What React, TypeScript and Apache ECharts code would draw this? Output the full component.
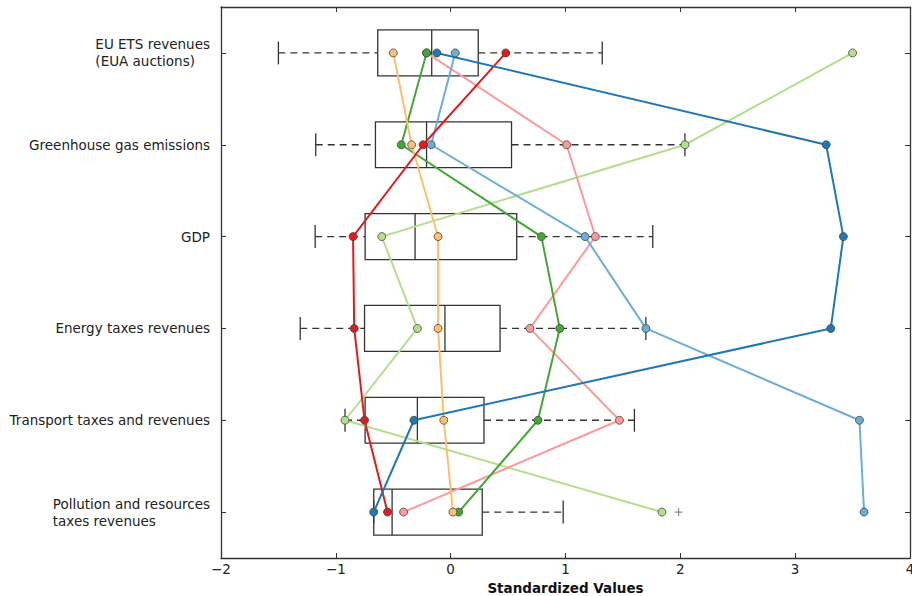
import React, { useEffect, useRef } from "react";
import * as echarts from "echarts";

const categories = [
  "EU ETS revenues\n(EUA auctions)",
  "Greenhouse gas emissions",
  "GDP",
  "Energy taxes revenues",
  "Transport taxes and revenues",
  "Pollution and resources\ntaxes revenues",
];

// box stats: [low whisker, Q1, median, Q3, high whisker]
const boxStats = [
  [-1.5, -0.635, -0.165, 0.24, 1.32],
  [-1.175, -0.655, -0.21, 0.53, 2.04],
  [-1.18, -0.745, -0.31, 0.575, 1.76],
  [-1.31, -0.75, -0.05, 0.43, 1.7],
  [-0.92, -0.745, -0.29, 0.29, 1.6],
  [-0.67, -0.67, -0.51, 0.275, 0.98],
];

const outliers = [[1.985, 5]];

const darkBlue = [-0.12, 3.27, 3.42, 3.31, -0.32, -0.67];
const lightBlue = [0.04, -0.17, 1.17, 1.7, 3.56, 3.6];
const red = [0.48, -0.24, -0.85, -0.84, -0.75, -0.55];
const pink = [-0.21, 1.01, 1.26, 0.69, 1.47, -0.41];
const green = [-0.21, -0.43, 0.79, 0.95, 0.76, 0.07];
const lightGreen = [3.5, 2.04, -0.6, -0.29, -0.92, 1.84];
const orange = [-0.5, -0.34, -0.11, -0.11, -0.06, 0.02];

const seriesDefs = [
  { name: "A", values: lightGreen, color: "#b2df8a" },
  { name: "B", values: pink, color: "#fb9a99" },
  { name: "C", values: lightBlue, color: "#6baed6" },
  { name: "D", values: green, color: "#41a833" },
  { name: "E", values: orange, color: "#fdbf6f" },
  { name: "F", values: red, color: "#e31a1c" },
  { name: "G", values: darkBlue, color: "#1f78b4" },
];

const FONT = "DejaVu Sans";
const FS = 13.5;

export default function App() {
  const ref = useRef<HTMLDivElement>(null);
  useEffect(() => {
    const chart = echarts.init(ref.current!, undefined, { renderer: "svg" });
    const boxData = boxStats.map((b, i) => [...b, i]);
    const axisLine = { show: true, onZero: false, lineStyle: { color: "#333", width: 1.3 } };
    const option: any = {
      animation: false,
      backgroundColor: "#fff",
      grid: {
        left: 221,
        right: 2,
        top: 7,
        bottom: 38,
        containLabel: false,
        outerBoundsMode: "none",
        show: false,
      },
      xAxis: [
        {
          type: "value",
          min: -2,
          max: 4,
          interval: 1,
          position: "bottom",
          axisLine,
          axisTick: { show: true, inside: true, length: 5, lineStyle: { color: "#333" } },
          splitLine: { show: false },
          axisLabel: {
            margin: 4,
            fontFamily: FONT,
            fontSize: FS,
            color: "#222",
            formatter: (v: number) => (v < 0 ? "\u2212" + Math.abs(v) : String(v)),
          },
          name: "Standardized Values",
          nameLocation: "middle",
          nameGap: 22,
          nameTextStyle: { fontFamily: FONT, fontSize: FS, fontWeight: "bold", color: "#111" },
        },
        {
          type: "value",
          min: -2,
          max: 4,
          interval: 1,
          position: "top",
          axisLine,
          axisTick: { show: true, inside: true, length: 5, lineStyle: { color: "#333" } },
          splitLine: { show: false },
          axisLabel: { show: false },
        },
      ],
      yAxis: [
        {
          type: "category",
          data: categories,
          inverse: true,
          position: "left",
          axisLine,
          axisTick: { show: true, inside: true, length: 5, alignWithLabel: true, lineStyle: { color: "#333" } },
          splitLine: { show: false },
          axisLabel: {
            margin: 11,
            align: "right",
            formatter: (v: string) =>
              v
                .split("\n")
                .map((l) => `{a|${l}}`)
                .join("\n"),
            rich: {
              a: {
                align: "left",
                fontFamily: FONT,
                fontSize: FS,
                color: "#222",
                lineHeight: 17,
              },
            },
          },
        },
        {
          type: "category",
          data: categories,
          inverse: true,
          position: "right",
          axisLine,
          axisTick: { show: true, inside: true, length: 5, alignWithLabel: true, lineStyle: { color: "#333" } },
          axisLabel: { show: false },
        },
      ],
      series: [
        {
          type: "custom",
          xAxisIndex: 0,
          yAxisIndex: 0,
          data: boxData,
          encode: { x: [0, 1, 2, 3, 4], y: 5 },
          z: 1,
          renderItem: (params: any, api: any) => {
            const cat = api.value(5);
            const lo = api.coord([api.value(0), cat]);
            const q1 = api.coord([api.value(1), cat]);
            const md = api.coord([api.value(2), cat]);
            const q3 = api.coord([api.value(3), cat]);
            const hi = api.coord([api.value(4), cat]);
            const band = api.size([0, 1])[1];
            const h = band * 0.5;
            const cap = band * 0.25;
            const y = lo[1];
            const stroke = "#333";
            const dashStyle = { stroke, lineWidth: 1.3, lineDash: [7, 5] };
            const solid = { stroke, lineWidth: 1.3 };
            return {
              type: "group",
              children: [
                { type: "line", shape: { x1: lo[0], y1: y, x2: q1[0], y2: y }, style: dashStyle },
                { type: "line", shape: { x1: q3[0], y1: y, x2: hi[0], y2: y }, style: dashStyle },
                { type: "line", shape: { x1: lo[0], y1: y - cap / 2, x2: lo[0], y2: y + cap / 2 }, style: solid },
                { type: "line", shape: { x1: hi[0], y1: y - cap / 2, x2: hi[0], y2: y + cap / 2 }, style: solid },
                {
                  type: "rect",
                  shape: { x: q1[0], y: y - h / 2, width: q3[0] - q1[0], height: h },
                  style: { fill: "none", stroke, lineWidth: 1.3 },
                },
                { type: "line", shape: { x1: md[0], y1: y - h / 2, x2: md[0], y2: y + h / 2 }, style: solid },
              ],
            };
          },
        },
        {
          type: "scatter",
          data: outliers.map((o) => [o[0], categories[o[1]]]),
          symbol: "path://M0,5L10,5M5,0L5,10",
          symbolSize: 8,
          itemStyle: { color: "transparent", borderColor: "#555", borderWidth: 1 },
          z: 2,
        },
        ...seriesDefs.map((s) => ({
          type: "line",
          name: s.name,
          data: s.values.map((v, i) => [v, categories[i]]),
          symbol: "circle",
          symbolSize: 8,
          showSymbol: true,
          lineStyle: { color: s.color, width: 2 },
          itemStyle: { color: s.color, borderColor: "#444", borderWidth: 0.8 },
          z: 3,
        })),
      ],
    };
    chart.setOption(option);
    return () => chart.dispose();
  }, []);
  return (
    <div
      ref={ref}
      style={{ position: "absolute", left: 0, top: 0, width: 912, height: 596 }}
    />
  );
}
